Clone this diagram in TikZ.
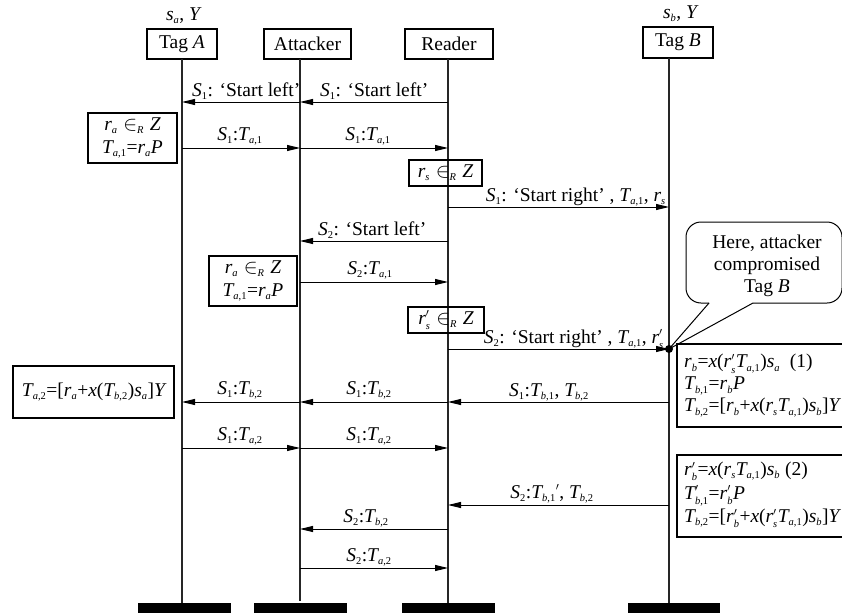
\documentclass[tikz,border=0pt]{standalone}
\usepackage{amsmath}
\usepackage[no-math]{fontspec}
\setmainfont{Liberation Serif}[NFSSFamily=libser]
\usetikzlibrary{arrows.meta}
\DeclareSymbolFont{tletters}{TU}{libser}{m}{it}
\DeclareSymbolFont{troman}{TU}{libser}{m}{n}
\DeclareMathSymbol{a}{\mathalpha}{tletters}{`a}
\DeclareMathSymbol{b}{\mathalpha}{tletters}{`b}
\DeclareMathSymbol{r}{\mathalpha}{tletters}{`r}
\DeclareMathSymbol{s}{\mathalpha}{tletters}{`s}
\DeclareMathSymbol{x}{\mathalpha}{tletters}{`x}
\DeclareMathSymbol{A}{\mathalpha}{tletters}{`A}
\DeclareMathSymbol{B}{\mathalpha}{tletters}{`B}
\DeclareMathSymbol{P}{\mathalpha}{tletters}{`P}
\DeclareMathSymbol{R}{\mathalpha}{tletters}{`R}
\DeclareMathSymbol{S}{\mathalpha}{tletters}{`S}
\DeclareMathSymbol{T}{\mathalpha}{tletters}{`T}
\DeclareMathSymbol{Y}{\mathalpha}{tletters}{`Y}
\DeclareMathSymbol{Z}{\mathalpha}{tletters}{`Z}
\DeclareMathSymbol{1}{\mathalpha}{troman}{`1}
\DeclareMathSymbol{2}{\mathalpha}{troman}{`2}
\DeclareMathSymbol{=}{\mathord}{troman}{`=}
\DeclareMathSymbol{+}{\mathord}{troman}{`+}
\DeclareMathSymbol{(}{\mathopen}{troman}{`(}
\DeclareMathSymbol{)}{\mathclose}{troman}{`)}
\DeclareMathSymbol{[}{\mathopen}{troman}{`[}
\DeclareMathSymbol{]}{\mathclose}{troman}{`]}
\DeclareMathSymbol{,}{\mathpunct}{troman}{`,}
\DeclareMathSizes{19.5}{19.5}{10.5}{8}
\tikzset{
  head/.style={draw, line width=1.3pt, inner sep=0pt, minimum height=30pt},
  cbox/.style={draw, line width=1.3pt, inner sep=0pt, align=center},
  life/.style={line width=1.2pt, draw=black!85},
  msg/.style={line width=1pt, -{Triangle[length=13pt,width=6pt]}},
  lbl/.style={anchor=base, inner sep=0pt},
  lblw/.style={anchor=base west, inner sep=0pt},
  lble/.style={anchor=base east, inner sep=0pt},
  frame/.style={line width=1.3pt},
  rtext/.style={anchor=west, align=left, inner sep=0pt, font=\fontsize{19.5}{22}\selectfont},
}
\begin{document}
\begin{tikzpicture}[x=1pt,y=-1pt,font=\fontsize{19.5}{23}\selectfont]
\useasboundingbox (0,0) rectangle (842,613);
% heads
\node[head, minimum width=70pt] (hA) at (182,44) {Tag $A$};
\node[head, minimum width=87pt] (hK) at (307.5,44) {Attacker};
\node[head, minimum width=88pt] (hR) at (449,44) {Reader};
\node[head, minimum width=70pt, minimum height=31pt] (hB) at (678,42.5) {Tag $B$};
\node[inner sep=0pt] (sA) at (183,16) {$s_a$, $Y$};
\node[inner sep=0pt] (sB) at (680,14) {$s_b$, $Y$};
% lifeline coordinates
\coordinate (lA) at (182,59);
\coordinate (lK) at (300,59);
\coordinate (lR) at (448,59);
\coordinate (lB) at (669,58);
% foot bars
\node[fill=black, inner sep=0pt, minimum width=93pt, minimum height=10pt] (fA) at (184.5,608) {};
\node[fill=black, inner sep=0pt, minimum width=93pt, minimum height=10pt] (fK) at (300.5,608) {};
\node[fill=black, inner sep=0pt, minimum width=93pt, minimum height=10pt] (fR) at (448.5,608) {};
\node[fill=black, inner sep=0pt, minimum width=92pt, minimum height=10pt] (fB) at (674,608) {};
\draw[life] (lA) -- (lA |- fA.north);
\draw[life] (lK) -- (lK |- 0,601);
\draw[life] (lR) -- (lR |- fR.north);
\draw[life] (lB) -- (lB |- fB.north);
% boxes
\node[cbox, minimum width=89pt, minimum height=50pt] (bA1) at (132.5,138) {$r_a\in_R Z$\\$T_{a,1}=r_aP$};
\node[cbox, minimum width=73pt, minimum height=26pt] (bR1) at (445.5,173) {$r_s\in_R Z$};
\node[cbox, minimum width=88pt, minimum height=50pt] (bK1) at (253,281) {$r_a\in_R Z$\\$T_{a,1}=r_aP$};
\node[cbox, minimum width=76pt, minimum height=26pt] (bR2) at (446,320) {$r'_s\in_R Z$};
\node[cbox, minimum width=161pt, minimum height=52pt] (bA2) at (93.5,392) {$T_{a,2}=[r_a+x(T_{b,2})s_a]Y$};
% right boxes (cut by the picture edge)
\draw[frame] (842,344) -- (677,344) -- (677,427) -- (842,427);
\node[rtext] (bB1) at (684,385.5)
  {$r_b=x(r'_sT_{a,1})s_a$\ \ (1)\\$T_{b,1}=r_bP$\\$T_{b,2}=[r_b+x(r_sT_{a,1})s_b]Y$};
\draw[frame] (842,455) -- (677,455) -- (677,537) -- (842,537);
\node[rtext, font=\fontsize{19.5}{23.5}\selectfont] (bB2) at (684,495)
  {$r'_b=x(r_sT_{a,1})s_b$\ (2)\\$T'_{b,1}=r'_bP$\\$T_{b,2}=[r'_b+x(r'_sT_{a,1})s_b]Y$};
% dot on Tag B
\node[circle, fill=black, inner sep=0pt, minimum size=8pt] (dot) at (669,349) {};
% callout
\draw[line width=1pt] (709,303) [rounded corners=15pt] -- (686,303) -- (686,222) -- (842,222) -- (842,303) -- (753,303);
\draw[line width=1pt] (709,303) -- (dot.center) -- (753,303);
\node[align=center, inner sep=0pt, font=\fontsize{19.5}{22}\selectfont] (note) at (767,266) {Here, attacker\\compromised\\Tag $B$};
% messages
\draw[msg] (lR |- 0,102) -- (lK |- 0,102);
\node[lblw] (t1) at (320,96) {$S_1$: `Start left'};
\draw[msg] (lK |- 0,102) -- (lA |- 0,102);
\node[lblw] (t2) at (192,96) {$S_1$: `Start left'};
\draw[msg] (lA |- 0,148) -- (lK |- 0,148);
\node[lbl] (t3) at (240,140) {$S_1$:$T_{a,1}$};
\draw[msg] (lK |- 0,148) -- (lR |- 0,148);
\node[lbl] (t4) at (368,140) {$S_1$:$T_{a,1}$};
\draw[msg] (lR |- 0,207) -- (lB |- 0,207);
\node[lble] (t5) at (666,201) {$S_1$: `Start right' , $T_{a,1}$, $r_s$};
\draw[msg] (lR |- 0,241) -- (lK |- 0,241);
\node[lblw] (t6) at (318,235) {$S_2$: `Start left'};
\draw[msg] (lK |- 0,282) -- (lR |- 0,282);
\node[lbl] (t7) at (370,274) {$S_2$:$T_{a,1}$};
\draw[msg] (lR |- 0,349) -- (dot.center);
\node[lble] (t8) at (664,343) {$S_2$: `Start right' , $T_{a,1}$, $r'_s$};
\draw[msg] (lB |- 0,402) -- (lR |- 0,402);
\node[lbl] (t9) at (549,396) {$S_1$:$T_{b,1}$, $T_{b,2}$};
\draw[msg] (lR |- 0,402) -- (lK |- 0,402);
\node[lbl] (t10) at (369,394) {$S_1$:$T_{b,2}$};
\draw[msg] (lK |- 0,402) -- (lA |- 0,402);
\node[lbl] (t11) at (240,394) {$S_1$:$T_{b,2}$};
\draw[msg] (lA |- 0,448) -- (lK |- 0,448);
\node[lbl] (t12) at (240,440) {$S_1$:$T_{a,2}$};
\draw[msg] (lK |- 0,448) -- (lR |- 0,448);
\node[lbl] (t13) at (369,440) {$S_1$:$T_{a,2}$};
\draw[msg] (lB |- 0,505) -- (lR |- 0,505);
\node[lbl] (t14) at (552,498) {$S_2$:$T_{b,1}{}'$, $T_{b,2}$};
\draw[msg] (lR |- 0,529) -- (lK |- 0,529);
\node[lbl] (t15) at (366,522) {$S_2$:$T_{b,2}$};
\draw[msg] (lK |- 0,568) -- (lR |- 0,568);
\node[lbl] (t16) at (369,561) {$S_2$:$T_{a,2}$};
\end{tikzpicture}
\end{document}
